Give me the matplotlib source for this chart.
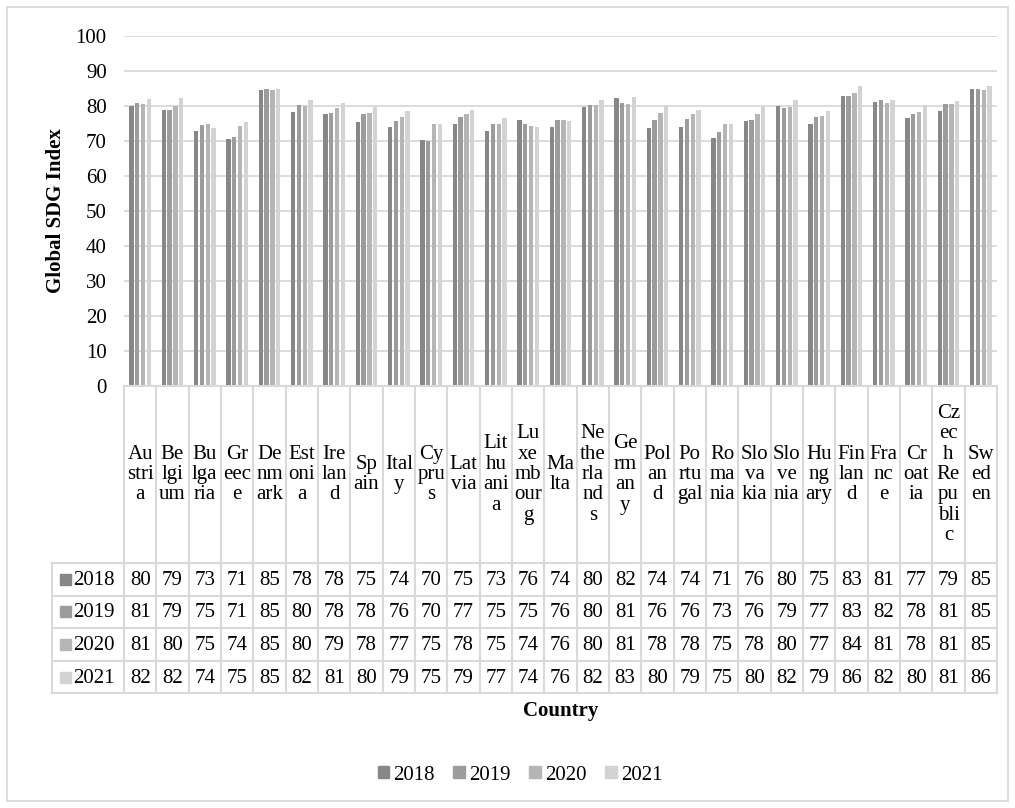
import matplotlib
matplotlib.use('Agg')
import matplotlib.pyplot as plt
from matplotlib.patches import Patch, Rectangle
import numpy as np

plt.rcParams['font.family'] = 'Liberation Serif'

# country names, wrapped the way the table header shows them
countries = ['Au\nstri\na', 'Be\nlgi\num', 'Bu\nlga\nria', 'Gr\neec\ne', 'De\nnm\nark',
             'Est\noni\na', 'Ire\nlan\nd', 'Sp\nain', 'Ital\ny', 'Cy\npru\ns',
             'Lat\nvia', 'Lit\nhu\nani\na', 'Lu\nxe\nmb\nour\ng', 'Ma\nlta',
             'Ne\nthe\nrla\nnd\ns', 'Ge\nrm\nan\ny', 'Pol\nan\nd', 'Po\nrtu\ngal',
             'Ro\nma\nnia', 'Slo\nva\nkia', 'Slo\nve\nnia', 'Hu\nng\nary', 'Fin\nlan\nd',
             'Fra\nnc\ne', 'Cr\noat\nia', 'Cz\nec\nh\nRe\npu\nbli\nc', 'Sw\ned\nen']
years = ['2018', '2019', '2020', '2021']

sdg_2018 = [79.9, 79.0, 73.0, 70.6, 84.6, 78.2, 77.6, 75.3, 74.1, 70.3, 74.8, 72.9, 76.1, 74.1,
            79.6, 82.2, 73.6, 73.9, 71.0, 75.6, 79.9, 75.0, 83.0, 81.1, 76.6, 78.6, 85.0]
sdg_2019 = [81.0, 78.8, 74.6, 71.2, 85.0, 80.2, 78.1, 77.7, 75.8, 70.0, 77.0, 75.0, 74.8, 76.0,
            80.4, 81.0, 75.9, 76.4, 72.7, 76.1, 79.3, 76.9, 82.8, 81.6, 77.7, 80.7, 85.0]
sdg_2020 = [80.6, 79.9, 74.8, 74.2, 84.6, 80.1, 79.3, 78.1, 77.0, 75.0, 77.6, 75.0, 74.2, 75.9,
            80.4, 80.7, 78.1, 77.6, 74.8, 77.6, 79.7, 77.2, 83.7, 81.0, 78.3, 80.6, 84.7]
sdg_2021 = [82.0, 82.2, 73.7, 75.3, 84.8, 81.6, 80.9, 79.6, 78.7, 74.9, 79.0, 76.6, 74.1, 75.6,
            81.6, 82.6, 80.1, 78.8, 75.0, 79.6, 81.6, 78.7, 85.8, 81.6, 80.4, 81.3, 85.6]
series = [sdg_2018, sdg_2019, sdg_2020, sdg_2021]
colors = ['#878787', '#9c9c9c', '#b5b5b5', '#d3d3d3']
line_c = '#d9d9d9'
fs = 15

W, H = 1015, 808
fig = plt.figure(figsize=(W / 100, H / 100), dpi=100)

# layout in pixels
px_l, px_r = 124, 997        # plot / table columns
px_top, px_base = 36, 386    # 100 and 0 on the value axis
px_head = 72                 # width of the series-name column
row_h = 32.6
head_bottom = 563
tab_bottom = head_bottom + 4 * row_h


def fig_rect(x0, y0, x1, y1):
    return [x0 / W, 1 - y1 / H, (x1 - x0) / W, (y1 - y0) / H]


n = len(countries)
x = np.arange(n)
col_w = (px_r - px_l) / n

ax = fig.add_axes(fig_rect(px_l, px_top, px_r, px_base))
bw, step = 0.133, 0.18
for i, (vals, c) in enumerate(zip(series, colors)):
    ax.bar(x + (i - 1.5) * step, vals, width=bw, color=c, zorder=3)
ax.set_xlim(-0.5, n - 0.5)
ax.set_ylim(0, 100)
ax.set_yticks(range(0, 101, 10))
ax.yaxis.grid(True, color=line_c, linewidth=1.3, zorder=0)
ax.tick_params(axis='y', length=0, pad=12.5, labelsize=fs)
ax.set_xticks([])
for s in ax.spines.values():
    s.set_visible(False)
ax.set_ylabel('Global SDG Index', fontsize=fs, fontweight='bold', labelpad=7)

# data table under the plot
tab = fig.add_axes(fig_rect(px_l - px_head, px_base, px_r, tab_bottom))
x0 = -0.5 - px_head / col_w
tab.set_xlim(x0, n - 0.5)
tab.set_ylim(tab_bottom, px_base)
tab.axis('off')

lw = 1.5
# vertical borders
for k in range(n + 1):
    tab.plot([k - 0.5, k - 0.5], [px_base, tab_bottom], color=line_c, lw=lw, clip_on=False)
tab.plot([x0, x0], [head_bottom, tab_bottom], color=line_c, lw=lw, clip_on=False)
# horizontal borders
tab.plot([-0.5, n - 0.5], [px_base, px_base], color=line_c, lw=lw, clip_on=False)
for r in range(5):
    yy = head_bottom + r * row_h
    tab.plot([x0, n - 0.5], [yy, yy], color=line_c, lw=lw, clip_on=False)

head_mid = (px_base + head_bottom) / 2
for k, name in enumerate(countries):
    tab.text(k, head_mid, name, ha='center', va='center', fontsize=fs,
             linespacing=1.1, multialignment='center')

for r, (yr, vals, c) in enumerate(zip(years, series, colors)):
    yc = head_bottom + (r + 0.5) * row_h
    sq = 11 / col_w
    tab.add_patch(Rectangle((-0.5 - 64 / col_w, yc - 5.5), sq, 11, color=c, clip_on=False))
    tab.text(-0.5 - 51 / col_w, yc + 1, yr, ha='left', va='center', fontsize=fs)
    for k, v in enumerate(vals):
        tab.text(k, yc + 1, f'{round(v):d}', ha='center', va='center', fontsize=fs)

fig.text((px_l + px_r) / 2 / W, 1 - 711 / H, 'Country', ha='center', va='center',
         fontsize=fs, fontweight='bold')

handles = [Patch(color=c, label=yr) for yr, c in zip(years, colors)]
fig.legend(handles=handles, loc='center', bbox_to_anchor=(520 / W, 1 - 775 / H), ncol=4,
           frameon=False, fontsize=fs, handlelength=0.55, handleheight=0.55,
           handletextpad=0.2, columnspacing=0.9)

# outer chart border
fig.add_artist(Rectangle((7 / W, 7 / H), (W - 14) / W, (H - 14) / H, transform=fig.transFigure,
                         fill=False, edgecolor=line_c, linewidth=1.3))

fig.savefig('out.png', dpi=100)
